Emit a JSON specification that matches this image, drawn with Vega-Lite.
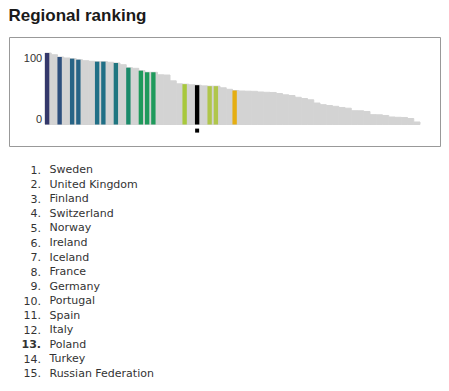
{
  "$schema": "https://vega.github.io/schema/vega-lite/v6.json",
  "padding": {"left": 8, "top": 6, "right": 0, "bottom": 0},
  "title": {"text": "Regional ranking", "anchor": "start", "font": "Liberation Sans", "fontSize": 17, "fontWeight": "bold", "color": "#1a1a1a", "offset": 12},
  "config": {"view": {"stroke": null}, "font": "DejaVu Sans"},
  "spacing": 16,
  "data": {"values": [
    {"rank": 1, "score": 117.2, "country": "Sweden", "regional": 1},
    {"rank": 2, "score": 114.4},
    {"rank": 3, "score": 110.7, "country": "United Kingdom", "regional": 2},
    {"rank": 4, "score": 109.0},
    {"rank": 5, "score": 107.9, "country": "Finland", "regional": 3},
    {"rank": 6, "score": 106.2, "country": "Switzerland", "regional": 4},
    {"rank": 7, "score": 104.6},
    {"rank": 8, "score": 103.6},
    {"rank": 9, "score": 103.0, "country": "Norway", "regional": 5},
    {"rank": 10, "score": 103.0, "country": "Ireland", "regional": 6},
    {"rank": 11, "score": 102.0},
    {"rank": 12, "score": 100.8, "country": "Iceland", "regional": 7},
    {"rank": 13, "score": 98.0},
    {"rank": 14, "score": 93.1, "country": "France", "regional": 8},
    {"rank": 15, "score": 92.1},
    {"rank": 16, "score": 88.2, "country": "Germany", "regional": 9},
    {"rank": 17, "score": 85.6, "country": "Portugal", "regional": 10},
    {"rank": 18, "score": 85.6, "country": "Spain", "regional": 11},
    {"rank": 19, "score": 81.5},
    {"rank": 20, "score": 81.1},
    {"rank": 21, "score": 71.6},
    {"rank": 22, "score": 66.7},
    {"rank": 23, "score": 66.1, "country": "Italy", "regional": 12},
    {"rank": 24, "score": 65.1},
    {"rank": 25, "score": 64.4, "country": "Poland", "regional": 13},
    {"rank": 26, "score": 63.3},
    {"rank": 27, "score": 62.8, "country": "Turkey", "regional": 14},
    {"rank": 28, "score": 62.8, "country": "Russian Federation", "regional": 15},
    {"rank": 29, "score": 60.2},
    {"rank": 30, "score": 57.7},
    {"rank": 31, "score": 55.7, "country": "Reference"},
    {"rank": 32, "score": 54.9},
    {"rank": 33, "score": 54.6},
    {"rank": 34, "score": 54.4},
    {"rank": 35, "score": 53.3},
    {"rank": 36, "score": 52.8},
    {"rank": 37, "score": 52.5},
    {"rank": 38, "score": 50.8},
    {"rank": 39, "score": 48.7},
    {"rank": 40, "score": 47.5},
    {"rank": 41, "score": 44.6},
    {"rank": 42, "score": 42.6},
    {"rank": 43, "score": 40.5},
    {"rank": 44, "score": 35.2},
    {"rank": 45, "score": 32.5},
    {"rank": 46, "score": 31.1},
    {"rank": 47, "score": 29.8},
    {"rank": 48, "score": 27.9},
    {"rank": 49, "score": 26.7},
    {"rank": 50, "score": 22.6},
    {"rank": 51, "score": 22.5},
    {"rank": 52, "score": 21.3},
    {"rank": 53, "score": 16.1},
    {"rank": 54, "score": 15.9},
    {"rank": 55, "score": 14.8},
    {"rank": 56, "score": 12.3},
    {"rank": 57, "score": 11.8},
    {"rank": 58, "score": 11.5},
    {"rank": 59, "score": 9.8},
    {"rank": 60, "score": 4.1}
  ]},
  "vconcat": [
    {
      "width": 431,
      "height": 109,
      "view": {"stroke": "#999999"},
      "layer": [
        {
          "mark": {"type": "bar", "color": "#d3d3d3", "stroke": "#d3d3d3", "strokeWidth": 1},
          "encoding": {
            "x": {"field": "rank", "type": "ordinal", "scale": {"range": [36, 411], "paddingInner": 0, "paddingOuter": 0}, "axis": null},
            "y": {"field": "score", "type": "quantitative", "scale": {"domain": [-35.25, 143.44], "nice": false, "zero": false},
              "axis": {"values": [0, 100], "ticks": false, "domain": false, "grid": false, "labelPadding": 0, "offset": -32.7, "labelOffset": -5, "labelFont": "Liberation Sans", "labelFontSize": 11, "labelColor": "#333333", "title": null}}
          }
        },
        {
          "transform": [{"filter": "isValid(datum.country)"}],
          "mark": {"type": "bar", "width": {"band": 0.7}, "xOffset": -1},
          "encoding": {
            "x": {"field": "rank", "type": "ordinal"},
            "y": {"field": "score", "type": "quantitative"},
            "color": {"field": "country", "type": "nominal", "legend": null,
              "scale": {
                "domain": ["Sweden", "United Kingdom", "Finland", "Switzerland", "Norway", "Ireland", "Iceland", "France", "Germany", "Portugal", "Spain", "Italy", "Poland", "Turkey", "Russian Federation", "Reference"],
                "range": ["#34386b", "#2d4f7d", "#276486", "#276486", "#206f86", "#206f86", "#1f7680", "#1b8a6a", "#1f9a5c", "#1f9a5c", "#1f9a5c", "#a8c83c", "#000000", "#b0c64b", "#b0c64b", "#e5ae12"]
              }}
          }
        },
        {
          "transform": [{"filter": "datum.regional === 13"}],
          "mark": {"type": "point", "shape": "square", "filled": true, "size": 16, "color": "#000000", "opacity": 1, "xOffset": -1},
          "encoding": {
            "x": {"field": "rank", "type": "ordinal"},
            "y": {"datum": -10, "type": "quantitative"}
          }
        }
      ]
    },
    {
      "width": 81,
      "height": 218.25,
      "transform": [{"filter": "isValid(datum.regional)"}],
      "mark": {"type": "text", "align": "left", "baseline": "middle", "font": "DejaVu Sans", "fontSize": 11, "color": "#333333"},
      "encoding": {
        "y": {"field": "regional", "type": "ordinal", "scale": {"paddingInner": 0, "paddingOuter": 0},
          "axis": {"labelExpr": "datum.value + '.'", "ticks": false, "domain": false, "grid": false, "labelPadding": 0, "offset": -31.5, "labelFont": "DejaVu Sans", "labelFontSize": 11, "labelColor": "#333333", "title": null,
            "labelFontWeight": {"condition": {"test": "datum.value === 13", "value": "bold"}, "value": "normal"}}},
        "text": {"field": "country"},
        "fontWeight": {"condition": {"test": "datum.regional === 13", "value": "bold"}, "value": "normal"}
      }
    }
  ]
}
